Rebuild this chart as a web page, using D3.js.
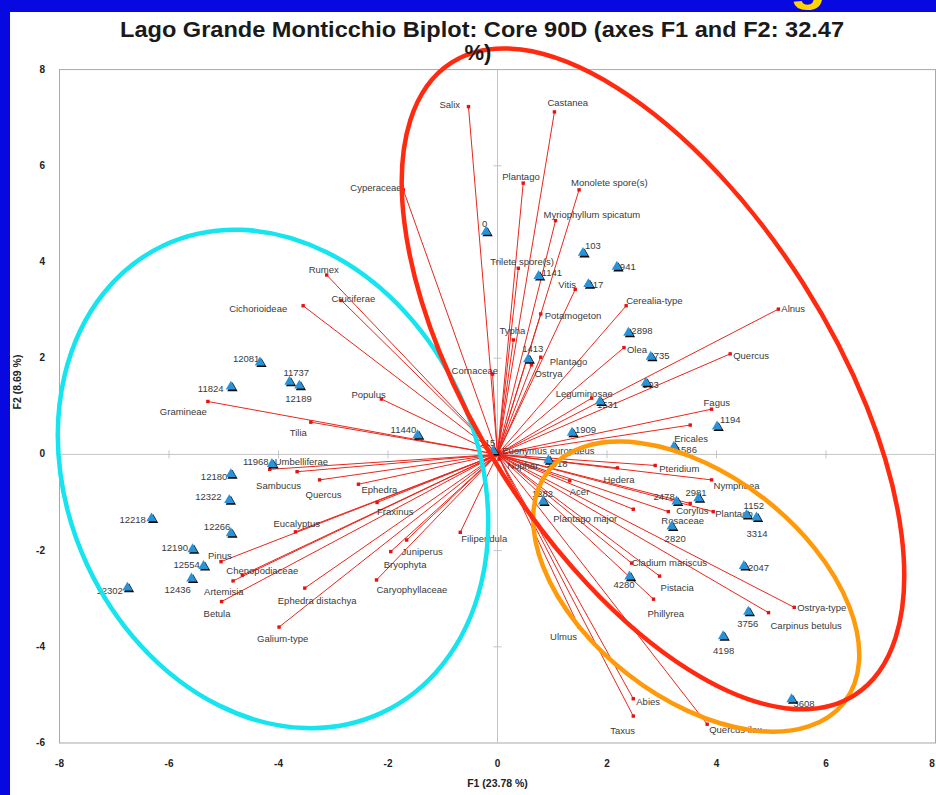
<!DOCTYPE html>
<html>
<head>
<meta charset="utf-8">
<script src="https://cdn.jsdelivr.net/npm/d3@7"></script>
<style>
  body { margin: 0; background: #0808e0; }
  svg text { font-family: "Liberation Sans", Arial, sans-serif; }
</style>
</head>
<body>
<svg id="chart" width="936" height="795"></svg>
<script>
// ---- data: variables (red vectors) ----
const varNames = ["Salix", "Castanea", "Plantago", "Monolete spore(s)", "Myriophyllum spicatum",
  "Cyperaceae", "Trilete spore(s)", "Vitis", "Rumex", "Cruciferae", "Cichorioideae", "Cerealia-type",
  "Alnus", "Potamogeton", "Typha", "Plantago", "Ostrya", "Cornaceae", "Olea", "Quercus",
  "Leguminosae", "Fagus", "Ericales", "Populus", "Tilia", "Gramineae", "Umbelliferae", "Sambucus",
  "Quercus", "Ephedra", "Fraxinus", "Eucalyptus", "Pinus", "Chenopodiaceae", "Artemisia", "Betula",
  "Ephedra distachya", "Galium-type", "Juniperus", "Bryophyta", "Caryophyllaceae", "Filipendula",
  "Ulmus", "Taxus", "Abies", "Quercus ilex", "Phillyrea", "Pistacia", "Cladium mariscus",
  "Ostrya-type", "Carpinus betulus", "Rosaceae", "Corylus", "Plantago", "Nymphaea", "Pteridium",
  "Hedera", "Acer", "Plantago major", "Euonymus europaeus", "Nuphar"];
const varF1 = [-0.53, 1.04, 0.47, 1.49, 1.06,
  -1.72, 0.38, 1.42, -3.12, -2.85, -3.55, 2.35,
  5.13, 0.79, 0.29, 0.79, 0.62, -0.09, 2.31, 4.25,
  1.72, 3.91, 3.52, -2.12, -3.41, -5.29, -4.16, -3.66,
  -3.25, -2.54, -2.20, -3.69, -5.05, -4.66, -4.83, -5.04,
  -3.52, -3.99, -1.66, -1.95, -2.21, -0.68,
  1.49, 2.48, 2.48, 3.83, 2.85, 2.96, 2.45,
  5.42, 4.95, 3.12, 3.52, 3.94, 3.91, 2.88,
  2.19, 1.32, 2.48, 0.03, 0.03];
const varF2 = [7.23, 7.12, 5.64, 5.50, 4.86,
  5.50, 3.87, 3.43, 3.73, 3.20, 3.09, 3.09,
  3.02, 2.92, 2.38, 2.02, 1.86, 1.67, 2.22, 2.09,
  1.17, 0.94, 0.61, 1.15, 0.67, 1.10, -0.31, -0.36,
  -0.53, -0.62, -1.00, -1.61, -2.23, -2.51, -2.63, -3.06,
  -2.78, -3.59, -1.78, -2.02, -2.61, -1.62,
  -3.59, -5.44, -5.08, -5.61, -3.01, -2.53, -2.26,
  -3.18, -3.29, -1.19, -1.02, -1.19, -0.53, -0.23,
  -0.28, -0.55, -1.14, 0.05, -0.10];

// ---- data: observations (samples, blue markers) ----
const sampleNames = ["0", "103", "941", "1141", "517", "2898", "735", "903", "1531", "1413",
  "1909", "11440", "1586", "1194", "1418", "1282", "2478", "2981", "1152", "3314",
  "2820", "2047", "4280", "3756", "4198", "3608", "12081", "11737", "12189", "11824",
  "11968", "12180", "12322", "12218", "12266", "12190", "12554", "12436", "12302", "115"];
const sampleF1 = [-0.21, 1.56, 2.18, 0.75, 1.66, 2.39, 2.80, 2.71, 1.87, 0.56,
  1.36, -1.46, 3.22, 4.01, 0.93, 0.83, 3.27, 3.67, 4.55, 4.73,
  3.18, 4.50, 2.41, 4.58, 4.12, 5.37, -4.34, -3.80, -3.62, -4.87,
  -4.12, -4.87, -4.90, -6.32, -4.87, -5.57, -5.37, -5.59, -6.76, -0.08];
const sampleF2 = [4.63, 4.19, 3.90, 3.71, 3.54, 2.53, 2.03, 1.49, 1.10, 1.98,
  0.45, 0.40, 0.16, 0.58, -0.12, -0.98, -0.98, -0.91, -1.26, -1.31,
  -1.50, -2.32, -2.54, -3.27, -3.78, -5.09, 1.91, 1.51, 1.43, 1.41,
  -0.20, -0.41, -0.95, -1.33, -1.64, -1.97, -2.32, -2.58, -2.77, 0.07];

const xTicks = [-8, -6, -4, -2, 0, 2, 4, 6, 8];
const yTicks = [-6, -4, -2, 0, 2, 4, 6, 8];

// label offsets (px, start-anchored) for the text next to each point
const varLabelOffset = [[-29, -2], [-7, -9], [-21, -7], [-8, -7], [-12, -6],
  [-53, -2], [-28, -7], [-17, -5], [-18, -5], [-10, -2], [-74, 3], [0, -5],
  [3, -1], [4, 2], [-14, -9], [9, 4], [3, 9], [-41, -4], [3, 2], [3, 2],
  [-36, -5], [-8, -7], [-16, 13], [-30, -5], [-21, 10], [-48, 10], [5, -8], [-41, 14],
  [-14, 15], [3, 5], [0, 9], [-22, -8], [-13, -6], [-16, -5], [-29, 11], [-18, 12],
  [-27, 12], [-22, 11], [-5, 11], [-7, 13], [0, 10], [1, 6],
  [-29, 9], [-23, 14], [3, 3], [2, 5], [-6, 14], [1, 11], [0, -1],
  [3, 0], [2, 13], [-7, 9], [-14, 7], [2, 2], [2, 6], [4, 3],
  [-14, 12], [0, 11], [-80, 9], [3, -1], [8, 6]];
const sampleLabelOffset = [[-4, -8], [2, -7], [3, 0], [3, -3], [-1, 0], [3, -2], [3, -1], [-3, 2], [-3, 3], [-6, -11],
  [3, -3], [-27, -6], [2, 3], [3, -7], [-2, 3], [-11, -8], [-23, -5], [-13, -6], [-3, -10], [-10, 16],
  [-7, 12], [4, 2], [-16, 8], [-11, 12], [-10, 14], [2, 4], [-27, -4], [-6, -9], [-14, 13], [-33, 2],
  [-29, -3], [-30, 2], [-34, -4], [-32, 1], [-27, -7], [-31, -2], [-30, -1], [-27, 11], [-31, 3], [-13, -9]];

// highlight ellipses: centre in data units, semi-axes in F1 units, rotation in degrees
const ellipses = [
  { cx: -4.10, cy: -0.51, rx: 3.74, ry: 4.71, angle: -25, color: "#16e4ee" },
  { cx: 3.63, cy: -2.75, rx: 3.43, ry: 2.03, angle: 38, color: "#ff9a0a" },
  { cx: 2.84, cy: 1.57, rx: 6.85, ry: 3.25, angle: 57.5, color: "#ff2a10" }
];

const svg = d3.select("#chart");
const W = 936, H = 795;

// blue slide background, a cut-off yellow heading glyph, white chart panel
svg.append("rect").attr("width", W).attr("height", H).attr("fill", "#0808e0");
svg.append("text").attr("x", 808).attr("y", -2)
  .attr("text-anchor", "middle").attr("font-size", 60).attr("font-weight", "bold")
  .attr("fill", "#ffd400").text("g");
svg.append("rect").attr("x", 10).attr("y", 12).attr("width", W - 10).attr("height", H - 12).attr("fill", "#fff");

const x = d3.scaleLinear().domain([-8, 8]).range([59.5, 935.5]);
const y = d3.scaleLinear().domain([-6, 8]).range([743, 69.6]);
const k = x(1) - x(0);

// frame
svg.append("rect")
  .attr("x", x(-8)).attr("y", y(8))
  .attr("width", x(8) - x(-8)).attr("height", y(-6) - y(8))
  .attr("fill", "none").attr("stroke", "#a8a8a8").attr("stroke-width", 1);

// zero axes with ticks
const zero = svg.append("g").attr("stroke", "#c4c4c4").attr("stroke-width", 1);
zero.append("line").attr("x1", x(-8)).attr("x2", x(8)).attr("y1", y(0)).attr("y2", y(0));
zero.append("line").attr("x1", x(0)).attr("x2", x(0)).attr("y1", y(8)).attr("y2", y(-6));
zero.selectAll(".xt").data(xTicks.filter(d => d !== 0 && Math.abs(d) !== 8)).enter().append("line")
  .attr("x1", d => x(d)).attr("x2", d => x(d)).attr("y1", y(0) - 4).attr("y2", y(0) + 4);
zero.selectAll(".yt").data(yTicks.filter(d => d !== 0 && d !== 8 && d !== -6)).enter().append("line")
  .attr("y1", d => y(d)).attr("y2", d => y(d)).attr("x1", x(0) - 4).attr("x2", x(0) + 4);

// tick labels
svg.append("g").selectAll("text").data(xTicks).enter().append("text")
  .attr("x", d => Math.min(x(d), W - 4)).attr("y", 767)
  .attr("text-anchor", "middle").attr("font-size", 10).attr("font-weight", "bold").attr("fill", "#222")
  .text(d => d);
svg.append("g").selectAll("text").data(yTicks).enter().append("text")
  .attr("x", 45).attr("y", d => y(d) + 3)
  .attr("text-anchor", "end").attr("font-size", 10).attr("font-weight", "bold").attr("fill", "#222")
  .text(d => d);

// axis titles
svg.append("text").attr("x", x(0)).attr("y", 787)
  .attr("text-anchor", "middle").attr("font-size", 10.5).attr("font-weight", "bold").attr("fill", "#222")
  .text("F1 (23.78 %)");
svg.append("text").attr("transform", `translate(21, 382) rotate(-90)`)
  .attr("text-anchor", "middle").attr("font-size", 10.5).attr("font-weight", "bold").attr("fill", "#222")
  .text("F2 (8.69 %)");

// vectors
const vars = varNames.map((n, i) => ({ name: n, f1: varF1[i], f2: varF2[i], off: varLabelOffset[i] }));
svg.append("g").selectAll("line").data(vars).enter().append("line")
  .attr("x1", x(0)).attr("y1", y(0))
  .attr("x2", d => x(d.f1)).attr("y2", d => y(d.f2))
  .attr("stroke", "#e8271c").attr("stroke-width", 1);
svg.append("g").selectAll("rect").data(vars).enter().append("rect")
  .attr("x", d => x(d.f1) - 1.7).attr("y", d => y(d.f2) - 1.7)
  .attr("width", 3.4).attr("height", 3.4).attr("fill", "#e8110f");
svg.append("g").selectAll("text").data(vars).enter().append("text")
  .attr("x", d => x(d.f1) + d.off[0]).attr("y", d => y(d.f2) + d.off[1] + 3.5)
  .attr("font-size", 9.5).attr("fill", "#3a3a3a")
  .text(d => d.name);

// samples
const samples = sampleNames.map((n, i) => ({ name: n, f1: sampleF1[i], f2: sampleF2[i], off: sampleLabelOffset[i] }));
svg.append("g").selectAll("text").data(samples).enter().append("text")
  .attr("x", d => x(d.f1) + d.off[0]).attr("y", d => y(d.f2) + d.off[1] + 3.5)
  .attr("font-size", 9.5).attr("fill", "#3a3a3a")
  .text(d => d.name);
const tri = d3.symbol().type(d3.symbolTriangle).size(46);
const marks = svg.append("g").selectAll("g").data(samples).enter().append("g")
  .attr("transform", d => `translate(${x(d.f1)},${y(d.f2)})`);
marks.append("path").attr("d", tri).attr("transform", "translate(1.6,1.6)").attr("fill", "#0a0a0a");
marks.append("path").attr("d", tri).attr("fill", "#2a93d8");

// ellipses
svg.append("g").selectAll("ellipse").data(ellipses).enter().append("ellipse")
  .attr("transform", d => `translate(${x(d.cx)},${y(d.cy)}) rotate(${d.angle})`)
  .attr("rx", d => d.rx * k).attr("ry", d => d.ry * k)
  .attr("fill", "none").attr("stroke", d => d.color).attr("stroke-width", 4.5);

// title
const title = svg.append("text").attr("y", 37)
  .attr("text-anchor", "middle").attr("font-size", 22).attr("font-weight", "bold").attr("fill", "#1a1a1a");
title.append("tspan").attr("x", 482)
  .attr("textLength", 724).attr("lengthAdjust", "spacingAndGlyphs")
  .text("Lago Grande Monticchio Biplot: Core 90D (axes F1 and F2: 32.47");
title.append("tspan").attr("x", 478).attr("dy", 23).text("%)");
</script>
</body>
</html>
